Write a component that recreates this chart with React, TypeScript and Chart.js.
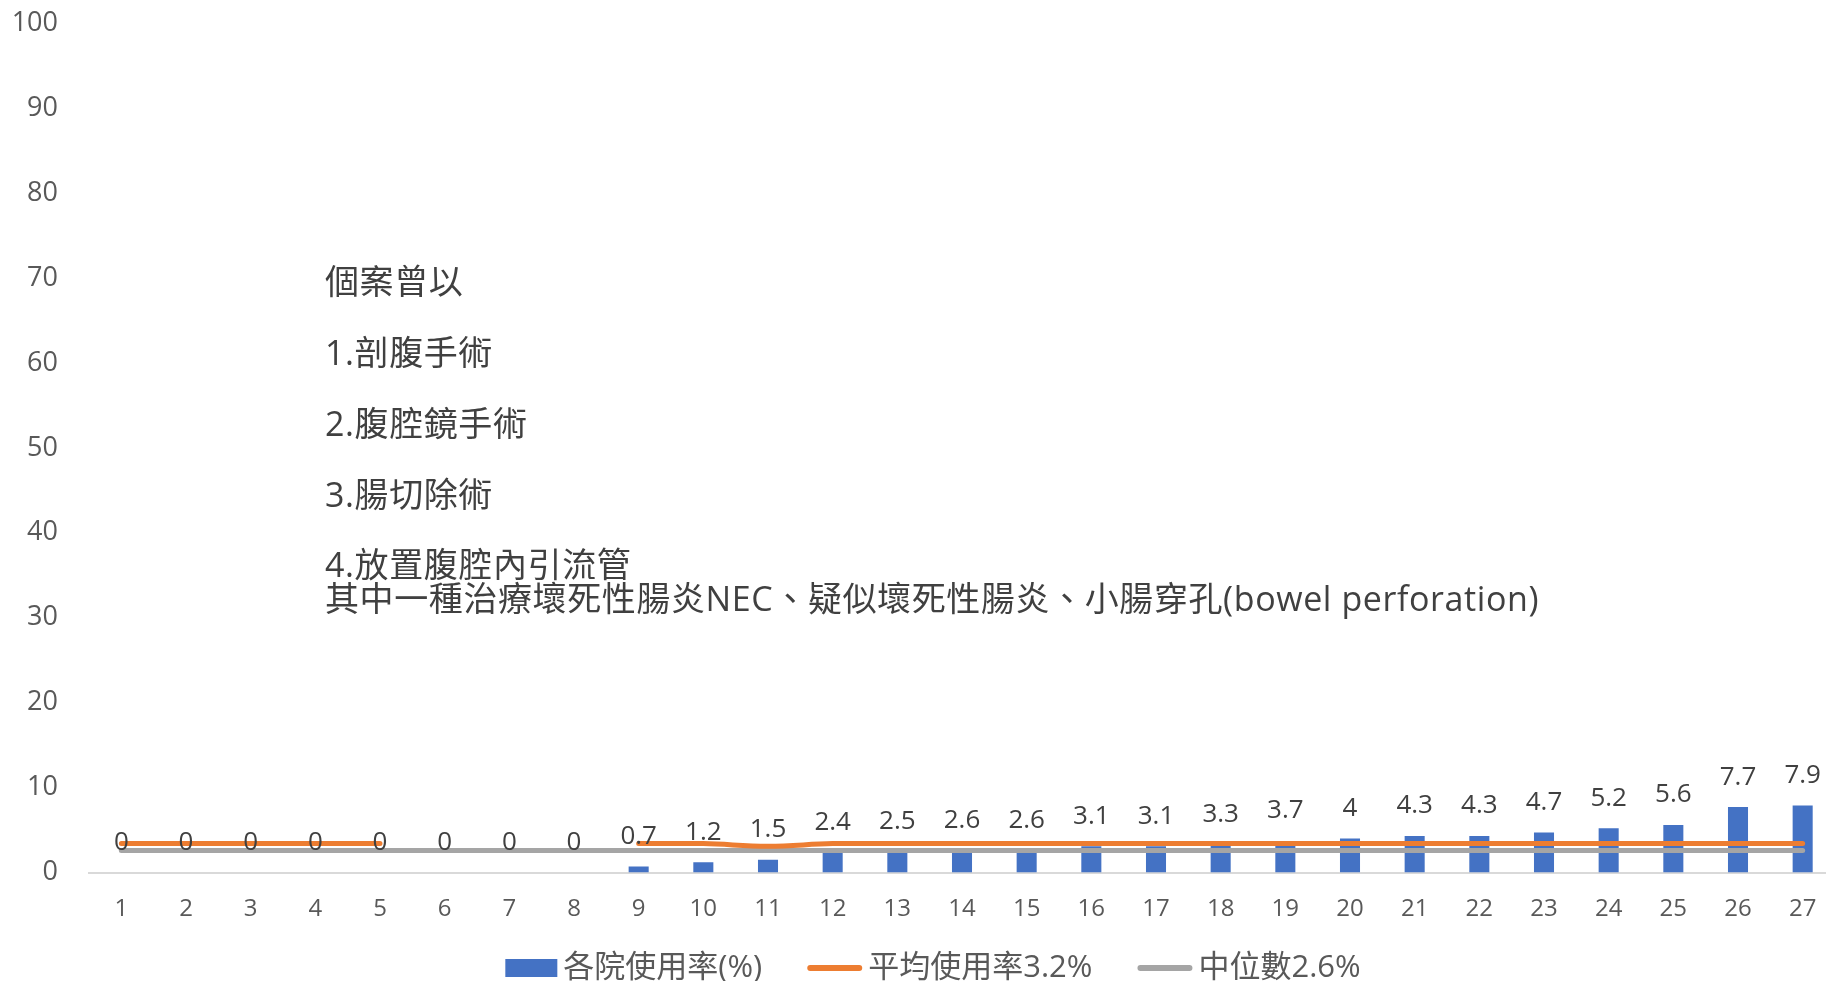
import React, { useEffect, useRef } from "react";
import { Chart, registerables } from "chart.js";

Chart.register(...registerables);

const categories = ["1","2","3","4","5","6","7","8","9","10","11","12","13","14","15","16","17","18","19","20","21","22","23","24","25","26","27"];
const hospitalRates = [0, 0, 0, 0, 0, 0, 0, 0, 0.7, 1.2, 1.5, 2.4, 2.5, 2.6, 2.6, 3.1, 3.1, 3.3, 3.7, 4, 4.3, 4.3, 4.7, 5.2, 5.6, 7.7, 7.9];
const averageRates = [3.4, 3.4, 3.4, 3.4, 3.4, null, null, null, 3.4, 3.4, 3.1, 3.4, 3.4, 3.4, 3.4, 3.4, 3.4, 3.4, 3.4, 3.4, 3.4, 3.4, 3.4, 3.4, 3.4, 3.4, 3.4];
const medianRates = [2.6, 2.6, 2.6, 2.6, 2.6, 2.6, 2.6, 2.6, 2.6, 2.6, 2.6, 2.6, 2.6, 2.6, 2.6, 2.6, 2.6, 2.6, 2.6, 2.6, 2.6, 2.6, 2.6, 2.6, 2.6, 2.6, 2.6];
const seriesNames = ["各院使用率(%)", "平均使用率3.2%", "中位數2.6%"];
const noteLines = [
  "個案曾以",
  "1.剖腹手術",
  "2.腹腔鏡手術",
  "3.腸切除術",
  "4.放置腹腔內引流管",
  "其中一種治療壞死性腸炎NEC、疑似壞死性腸炎、小腸穿孔(bowel perforation)",
];
const noteLineY = [284, 355, 426, 497, 567, 601];

const FONT = '"Open Sans", "Noto Sans CJK TC", sans-serif';

const barLabelPlugin = {
  id: "barLabels",
  afterDatasetsDraw(chart: any) {
    const ctx = chart.ctx;
    const meta = chart.getDatasetMeta(2);
    ctx.save();
    ctx.font = `26px ${FONT}`;
    ctx.fillStyle = "#404040";
    ctx.textAlign = "center";
    ctx.textBaseline = "middle";
    meta.data.forEach((el: any, i: number) => {
      ctx.fillText(String(hospitalRates[i]), el.x, el.y - 30);
    });
    ctx.restore();
  },
};

const notePlugin = {
  id: "noteText",
  afterDraw(chart: any) {
    const ctx = chart.ctx;
    ctx.save();
    ctx.font = `34px ${FONT}`;
    (ctx as any).letterSpacing = "0.6px";
    ctx.fillStyle = "#404040";
    ctx.textAlign = "left";
    ctx.textBaseline = "middle";
    noteLines.forEach((t, i) => ctx.fillText(t, 325, noteLineY[i]));
    ctx.restore();
  },
};

const legendPlugin = {
  id: "customLegend",
  afterDraw(chart: any) {
    const ctx = chart.ctx;
    const ds = chart.data.datasets;
    const items = [
      { text: seriesNames[0], color: ds[2].backgroundColor, kind: "rect", w: 52 },
      { text: seriesNames[1], color: ds[0].borderColor, kind: "line", w: 55 },
      { text: seriesNames[2], color: ds[1].borderColor, kind: "line", w: 55 },
    ];
    const gap = 6;
    const itemGap = 45;
    const cy = 968;
    ctx.save();
    ctx.font = `31px ${FONT}`;
    ctx.textBaseline = "middle";
    ctx.textAlign = "left";
    const widths = items.map((it) => it.w + gap + ctx.measureText(it.text).width);
    const total = widths.reduce((a, b) => a + b, 0) + itemGap * (items.length - 1);
    let x = 933 - total / 2;
    items.forEach((it, i) => {
      if (it.kind === "rect") {
        ctx.fillStyle = it.color;
        ctx.fillRect(x, cy - 9, it.w, 18);
      } else {
        ctx.strokeStyle = it.color;
        ctx.lineWidth = 6;
        ctx.lineCap = "round";
        ctx.beginPath();
        ctx.moveTo(x + 3, cy);
        ctx.lineTo(x + it.w - 3, cy);
        ctx.stroke();
      }
      ctx.fillStyle = "#595959";
      ctx.fillText(it.text, x + it.w + gap, cy);
      x += widths[i] + itemGap;
    });
    ctx.restore();
  },
};

export default function App() {
  const ref = useRef<HTMLCanvasElement | null>(null);
  useEffect(() => {
    if (!ref.current) return;
    const chart = new Chart(ref.current, {
      type: "bar",
      data: {
        labels: categories,
        datasets: [
          {
            type: "line",
            label: seriesNames[1],
            data: averageRates as any,
            borderColor: "#ED7D31",
            backgroundColor: "#ED7D31",
            borderWidth: 5,
            borderCapStyle: "round",
            tension: 0.4,
            pointRadius: 0,
            spanGaps: false,
            order: 0,
          } as any,
          {
            type: "line",
            label: seriesNames[2],
            data: medianRates,
            borderColor: "#A5A5A5",
            backgroundColor: "#A5A5A5",
            borderWidth: 5,
            borderCapStyle: "round",
            tension: 0.4,
            pointRadius: 0,
            order: 1,
          } as any,
          {
            type: "bar",
            label: seriesNames[0],
            data: hospitalRates,
            backgroundColor: "#4472C4",
            borderWidth: 0,
            barPercentage: 0.31,
            categoryPercentage: 1,
            order: 2,
          } as any,
        ],
      },
      options: {
        animation: false,
        responsive: false,
        devicePixelRatio: 1,
        layout: { padding: { top: 23, left: 0, right: 5, bottom: 48.5 } },
        scales: {
          x: {
            grid: { display: false, drawTicks: false },
            border: { display: true, color: "#D9D9D9", width: 2 },
            ticks: { color: "#595959", font: { family: FONT, size: 24 }, padding: 22 },
            afterFit: (s: any) => { s.height = 60; },
          },
          y: {
            min: 0,
            max: 100,
            grid: { display: false, drawTicks: true, tickLength: 24 },
            border: { display: false },
            ticks: { stepSize: 10, color: "#595959", font: { family: FONT, size: 27 }, padding: 7 },
            afterFit: (s: any) => { s.width = 89; },
          },
        },
        plugins: {
          tooltip: { enabled: false },
          legend: { display: false },
        },
      } as any,
      plugins: [barLabelPlugin, notePlugin, legendPlugin],
    });
    return () => chart.destroy();
  }, []);

  return (
    <div style={{ position: "fixed", left: 0, top: 0, width: 1826, height: 981, overflow: "hidden", background: "#fff" }}>
      <canvas ref={ref} width={1840} height={981} style={{ display: "block" }} />
    </div>
  );
}
